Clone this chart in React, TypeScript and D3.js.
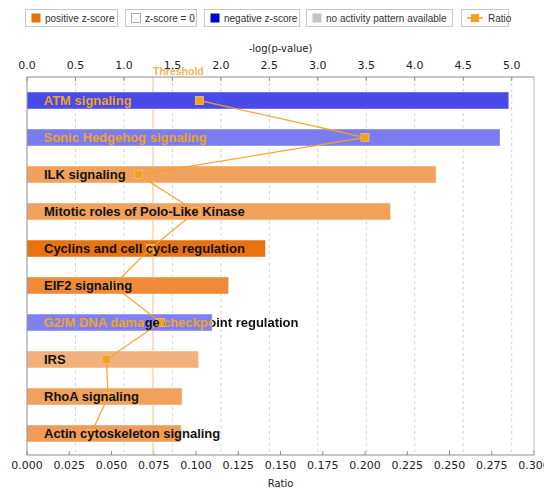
import React from "react";
import * as d3 from "d3";

// Canonical pathways, top to bottom
const pathways = [
  "ATM signaling",
  "Sonic Hedgehog signaling",
  "ILK signaling",
  "Mitotic roles of Polo-Like Kinase",
  "Cyclins and cell cycle regulation",
  "EIF2 signaling",
  "G2/M DNA damage checkpoint regulation",
  "IRS",
  "RhoA signaling",
  "Actin cytoskeleton signaling",
];
// -log(p-value) for each pathway
const negLogP = [4.97, 4.88, 4.22, 3.75, 2.46, 2.08, 1.91, 1.77, 1.6, 1.59];
// Ratio of overlapping molecules
const ratios = [0.102, 0.2, 0.066, 0.1, 0.073, 0.051, 0.079, 0.047, 0.048, 0.038];
// Activity pattern colour per bar
const barColors = [
  "#4a4ae8",
  "#7b7bf0",
  "#f0a15c",
  "#f0a15c",
  "#e8720e",
  "#ee8a38",
  "#8080f0",
  "#f2b07c",
  "#f0a15c",
  "#f09c58",
];
// Whether the label sits on a blue (negative z-score) bar
const onBlue = [true, true, false, false, false, false, true, false, false, false];

const topTicks = [0, 0.5, 1, 1.5, 2, 2.5, 3, 3.5, 4, 4.5, 5];
const bottomTicks = [0, 0.025, 0.05, 0.075, 0.1, 0.125, 0.15, 0.175, 0.2, 0.225, 0.25, 0.275, 0.3];
const threshold = 1.3;

const legendItems = [
  { label: "positive z-score", kind: "pos", x0: 25, x1: 117 },
  { label: "z-score = 0", kind: "zero", x0: 125, x1: 196 },
  { label: "negative z-score", kind: "neg", x0: 204, x1: 299 },
  { label: "no activity pattern available", kind: "none", x0: 306, x1: 452 },
  { label: "Ratio", kind: "ratio", x0: 461, x1: 508 },
];

const W = 544;
const H = 490;
const left = 27;
const right = 534;
const top = 77;
const bottom = 455;

const ORANGE = "#f5a01e";
const AXIS = "#8c8c8c";
const TICKFONT = "'DejaVu Sans', Verdana, sans-serif";
const LABELFONT = "'Liberation Sans', Arial, sans-serif";

export default function App() {
  const xP = d3.scaleLinear().domain([0, 5.23]).range([left, right]);
  const xR = d3.scaleLinear().domain([0, 0.3]).range([left, right]);
  const y = d3.scaleBand<string>().domain(pathways).range([82, 452]).paddingInner(0).paddingOuter(0);
  const barH = 17;
  const cy = (i: number) => (y(pathways[i]) as number) + y.bandwidth() / 2;

  const line = d3
    .line<number>()
    .x((d) => xR(d))
    .y((_, i) => cy(i));

  const markerSize = 8;

  // Area of a blue bar where its label turns orange (minus the ratio marker's neighbourhood)
  const highlight = (i: number, on: string, off: string) => {
    const bx0 = xP(0);
    const bx1 = xP(negLogP[i]);
    const mx = xR(ratios[i]);
    return (
      <>
        <rect x={bx0} y={cy(i) - barH / 2} width={bx1 - bx0} height={barH} fill={on} />
        {mx > 80 && mx < bx1 && (
          <rect x={mx - 16} y={cy(i) - barH / 2} width={20} height={barH} fill={off} />
        )}
      </>
    );
  };

  return (
    <svg
      width={W}
      height={H}
      style={{ position: "absolute", left: 0, top: 0, background: "#fff" }}
    >
      <defs>
        {pathways.map((p, i) =>
          onBlue[i] ? (
            <React.Fragment key={p}>
              <mask id={`lblOn${i}`} maskUnits="userSpaceOnUse" x={0} y={0} width={W} height={H}>
                {highlight(i, "#fff", "#000")}
              </mask>
              <mask id={`lblOff${i}`} maskUnits="userSpaceOnUse" x={0} y={0} width={W} height={H}>
                <rect x={0} y={0} width={W} height={H} fill="#fff" />
                {highlight(i, "#000", "#fff")}
              </mask>
            </React.Fragment>
          ) : null
        )}
      </defs>

      {/* Legend */}
      <g fontFamily={LABELFONT} fontSize={10} fill="#333">
        {legendItems.map((it) => (
          <g key={it.label}>
            <rect
              x={it.x0 + 0.5}
              y={9.5}
              width={it.x1 - it.x0}
              height={17}
              fill="#fff"
              stroke="#c8c8c8"
            />
            {it.kind === "ratio" ? (
              <g>
                <line x1={it.x0 + 6} x2={it.x0 + 22} y1={18} y2={18} stroke={ORANGE} strokeWidth={1.5} />
                <rect x={it.x0 + 10} y={14} width={8} height={8} fill={ORANGE} />
              </g>
            ) : (
              <rect
                x={it.x0 + 6.5}
                y={13.5}
                width={9}
                height={9}
                fill={
                  it.kind === "pos"
                    ? "#e8720e"
                    : it.kind === "neg"
                    ? "#0000d0"
                    : it.kind === "none"
                    ? "#c4c4c4"
                    : "#fff"
                }
                stroke={it.kind === "zero" ? "#aaa" : "none"}
              />
            )}
            <text x={it.x0 + (it.kind === "ratio" ? 27 : 20)} y={22}>
              {it.label}
            </text>
          </g>
        ))}
      </g>

      {/* Axis titles */}
      <text x={(left + right) / 2} y={52} textAnchor="middle" fontFamily={TICKFONT} fontSize={10} fill="#222">
        -log(p-value)
      </text>
      <text x={(left + right) / 2} y={487} textAnchor="middle" fontFamily={TICKFONT} fontSize={10} fill="#222">
        Ratio
      </text>

      {/* Grid lines */}
      {topTicks
        .filter((t) => t > 0)
        .map((t) => (
          <line
            key={`g${t}`}
            x1={xP(t)}
            x2={xP(t)}
            y1={top}
            y2={bottom}
            stroke="#d4d4d4"
            strokeDasharray="3,3"
          />
        ))}

      {/* Top axis */}
      <g fontFamily={TICKFONT} fontSize={11} fill="#222">
        {topTicks.map((t) => (
          <g key={`t${t}`}>
            <line x1={xP(t)} x2={xP(t)} y1={top} y2={top + 4} stroke={AXIS} />
            <text x={xP(t)} y={69} textAnchor="middle">
              {d3.format(".1f")(t)}
            </text>
          </g>
        ))}
      </g>

      {/* Bottom axis */}
      <g fontFamily={TICKFONT} fontSize={11} fill="#222">
        {bottomTicks.map((t) => (
          <g key={`b${t}`}>
            <line x1={xR(t)} x2={xR(t)} y1={bottom} y2={bottom - 4} stroke={AXIS} />
            <text x={xR(t)} y={469} textAnchor="middle">
              {d3.format(".3f")(t)}
            </text>
          </g>
        ))}
      </g>

      {/* Threshold */}
      <line x1={xP(threshold)} x2={xP(threshold)} y1={top} y2={bottom} stroke="#f6d6a2" strokeWidth={1.5} />

      {/* Bars */}
      {pathways.map((p, i) => (
        <rect
          key={p}
          x={xP(0)}
          y={cy(i) - barH / 2}
          width={xP(negLogP[i]) - xP(0)}
          height={barH}
          fill={barColors[i]}
          stroke="#fff"
          strokeOpacity={0.45}
        />
      ))}

      {/* Frame */}
      <line x1={left} x2={right} y1={top} y2={top} stroke={AXIS} />
      <line x1={left} x2={right} y1={bottom} y2={bottom} stroke={AXIS} />
      <line x1={left} x2={left} y1={top} y2={bottom} stroke={AXIS} />
      <line x1={right} x2={right} y1={top} y2={bottom} stroke="#b4b4b4" />

      <text
        x={xP(threshold)}
        y={75}
        fontFamily={LABELFONT}
        fontWeight="bold"
        fontSize={10.5}
        fill="#f2b455"
      >
        Threshold
      </text>

      {/* Ratio line */}
      <path d={line(ratios) ?? ""} fill="none" stroke={ORANGE} strokeWidth={1.3} strokeOpacity={0.9} />
      {ratios.map((r, i) => (
        <rect
          key={`m${i}`}
          x={xR(r) - markerSize / 2}
          y={cy(i) - markerSize / 2}
          width={markerSize}
          height={markerSize}
          fill={ORANGE}
          stroke="#f0c080"
          strokeWidth={0.8}
        />
      ))}

      {/* Pathway labels */}
      <g fontFamily={LABELFONT} fontWeight="bold" fontSize={13}>
        {pathways.map((p, i) =>
          onBlue[i] ? (
            <g key={`l${p}`}>
              <text x={44} y={cy(i) + 4.5} fill="#111" mask={`url(#lblOff${i})`}>
                {p}
              </text>
              <text x={44} y={cy(i) + 4.5} fill="#f5a623" mask={`url(#lblOn${i})`}>
                {p}
              </text>
            </g>
          ) : (
            <text key={`l${p}`} x={44} y={cy(i) + 4.5} fill="#111">
              {p}
            </text>
          )
        )}
      </g>
    </svg>
  );
}
